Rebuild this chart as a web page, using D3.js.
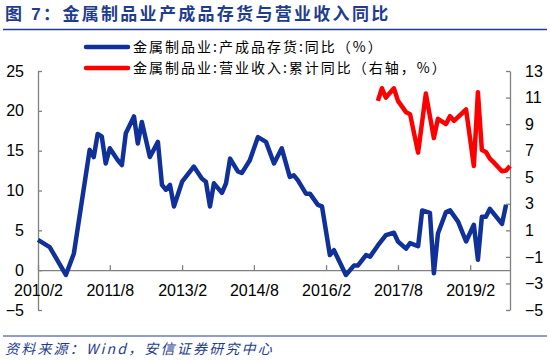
<!DOCTYPE html>
<html>
  <head>
    <meta charset="utf-8">
    <title>金属制品业产成品存货与营业收入同比</title>
    <style>
    body {
        margin: 0px;
        overflow: hidden;
        background: white;
    }

    .tick text {
        font-family: "Liberation Sans", Arial, sans-serif;
        font-size: 16px;
        fill: black;
    }

    .tick line, .domain {
        stroke: #808080;
        stroke-width: 1.3;
    }

    .title {
        font-family: "Liberation Sans", "Noto Sans CJK SC", sans-serif;
        font-size: 17px;
        font-weight: bold;
        fill: #1f3c8f;
        letter-spacing: 2.3px;
    }

    .legend-text {
        font-family: "Noto Sans CJK SC", sans-serif;
        font-size: 14px;
        fill: black;
        letter-spacing: 2px;
    }

    .source {
        font-family: "Noto Sans CJK SC", sans-serif;
        font-size: 14px;
        font-style: italic;
        fill: #1f3c8f;
        letter-spacing: 2.2px;
    }
    </style>
    <script src="https://d3js.org/d3.v7.min.js"></script>
  </head>
  <body>

    <svg width="550" height="360"></svg>

    <script>
        // 产成品存货 同比 (left axis)
        const invDates = ['2010/2','2010/5','2010/9','2010/11','2011/3','2011/4','2011/5','2011/6','2011/7','2011/8',
            '2011/10','2011/11','2011/12','2012/2','2012/3','2012/4','2012/6','2012/8','2012/9','2012/10',
            '2012/11','2012/12','2013/2','2013/5','2013/7','2013/8','2013/9','2013/10','2013/12','2014/1',
            '2014/2','2014/4','2014/5','2014/6','2014/7','2014/9','2014/11','2015/1','2015/3','2015/5',
            '2015/6','2015/7','2015/9','2015/10','2015/12','2016/1','2016/3','2016/4','2016/7','2016/9',
            '2016/10','2016/12','2017/1','2017/3','2017/5','2017/7','2017/8','2017/10','2017/11','2018/1',
            '2018/2','2018/4','2018/5','2018/6','2018/8','2018/9','2018/11','2019/1','2019/3','2019/4',
            '2019/5','2019/6','2019/7','2019/10','2019/11'];
        const invValues = [3.8, 2.9, -0.6, 2.1, 15.1, 14.2, 17.1, 16.8, 13.4, 15.3,
            13.8, 13.2, 17.2, 19.3, 15.9, 18.6, 14.2, 16.1, 10.7, 10.1,
            10.7, 8.0, 11.1, 13.0, 11.5, 11.1, 8.0, 10.9, 9.7, 10.9,
            14.0, 12.4, 12.2, 13.0, 13.8, 16.7, 16.1, 13.4, 15.3, 11.7,
            11.9, 11.3, 9.6, 9.6, 8.2, 8.0, 1.9, 2.5, -0.6, 0.6,
            0.6, 1.9, 1.7, 3.1, 4.4, 4.7, 3.6, 2.7, 3.4, 3.0,
            7.5, 7.2, -0.4, 4.6, 7.3, 7.5, 6.1, 3.6, 5.7, 1.3,
            6.7, 6.7, 7.7, 5.8, 8.2];

        // 营业收入 累计同比 (right axis)
        const revDates = ['2017/3','2017/4','2017/5','2017/7','2017/8','2017/10','2017/11','2018/1','2018/3','2018/5',
            '2018/6','2018/8','2018/9','2018/10','2019/1','2019/3','2019/4','2019/5','2019/6','2019/7',
            '2019/8','2019/10','2019/11','2019/12'];
        const revValues = [10.75, 11.7, 11.0, 11.7, 10.75, 9.9, 9.75, 6.85, 11.3, 7.95,
            9.4, 9.0, 9.6, 9.25, 10.1, 5.85, 11.4, 7.05, 6.9, 6.4,
            6.1, 5.45, 5.5, 5.85];

        const xTickLabels = ['2010/2', '2011/8', '2013/2', '2014/8', '2016/2', '2017/8', '2019/2'];
        const leftTicks = [-5, 0, 5, 10, 15, 20, 25];
        const rightTicks = [-5, -3, -1, 1, 3, 5, 7, 9, 11, 13];

        const seriesNames = ['金属制品业:产成品存货:同比（%）', '金属制品业:营业收入:累计同比（右轴，%）'];
        const seriesColors = ['#10309a', '#ff0000'];

        const svg = d3.select('svg');
        const width = +svg.attr('width');
        const height = +svg.attr('height');

        const parse = d3.timeParse('%Y/%m');
        const inv = invDates.map((d, i) => ({ date: parse(d), value: invValues[i] }));
        const rev = revDates.map((d, i) => ({ date: parse(d), value: revValues[i] }));

        const plot = { left: 38, right: 510, top: 71, bottom: 310 };

        const xScale = d3.scaleTime()
            .domain([parse('2010/2'), parse('2019/12')])
            .range([plot.left, plot.right]);

        const yLeft = d3.scaleLinear()
            .domain([-5, 25])
            .range([plot.bottom, plot.top]);

        const yRight = d3.scaleLinear()
            .domain([-5, 13])
            .range([plot.bottom, plot.top]);

        // title
        svg.append('text')
            .attr('class', 'title')
            .attr('x', 5)
            .attr('y', 20)
            .text('图 7：金属制品业产成品存货与营业收入同比');

        svg.append('line')
            .attr('x1', 3).attr('x2', 547)
            .attr('y1', 29.5).attr('y2', 29.5)
            .attr('stroke', '#1f3c8f')
            .attr('stroke-width', 1.5);

        // axes
        const leftAxisG = svg.append('g')
            .attr('transform', `translate(${plot.left},0)`)
            .call(d3.axisLeft(yLeft)
                .tickValues(leftTicks)
                .tickSize(-4)
                .tickSizeOuter(0)
                .tickPadding(14));

        const rightAxisG = svg.append('g')
            .attr('transform', `translate(${plot.right},0)`)
            .call(d3.axisRight(yRight)
                .tickValues(rightTicks)
                .tickSize(-4)
                .tickSizeOuter(0)
                .tickPadding(15));

        const xAxisG = svg.append('g')
            .attr('transform', `translate(0,${yLeft(0)})`)
            .call(d3.axisBottom(xScale)
                .tickValues(xTickLabels.map(parse))
                .tickFormat((d, i) => xTickLabels[i])
                .tickSize(-5)
                .tickSizeOuter(0)
                .tickPadding(14));

        // lines
        const lineLeft = d3.line()
            .x(d => xScale(d.date))
            .y(d => yLeft(d.value));

        const lineRight = d3.line()
            .x(d => xScale(d.date))
            .y(d => yRight(d.value));

        svg.append('path')
            .datum(inv)
            .attr('d', lineLeft)
            .attr('fill', 'none')
            .attr('stroke', seriesColors[0])
            .attr('stroke-width', 4.5)
            .attr('stroke-linejoin', 'round');

        svg.append('path')
            .datum(rev)
            .attr('d', lineRight)
            .attr('fill', 'none')
            .attr('stroke', seriesColors[1])
            .attr('stroke-width', 4.5)
            .attr('stroke-linejoin', 'round');

        // legend
        const legend = svg.append('g');
        const legendRows = seriesNames.map((name, i) => ({ name, color: seriesColors[i], y: 47 + 21 * i }));

        legend.selectAll('line').data(legendRows)
            .enter().append('line')
            .attr('x1', 86).attr('x2', 128)
            .attr('y1', d => d.y).attr('y2', d => d.y)
            .attr('stroke', d => d.color)
            .attr('stroke-width', 4.5)
            .attr('stroke-linecap', 'round');

        legend.selectAll('text').data(legendRows)
            .enter().append('text')
            .attr('class', 'legend-text')
            .attr('x', 133)
            .attr('y', d => d.y + 5)
            .text(d => d.name);

        // footer
        svg.append('line')
            .attr('x1', 3).attr('x2', 547)
            .attr('y1', 336).attr('y2', 336)
            .attr('stroke', '#1f3c8f')
            .attr('stroke-width', 1);

        svg.append('text')
            .attr('class', 'source')
            .attr('x', 5)
            .attr('y', 354)
            .text('资料来源：Wind，安信证券研究中心');
    </script>
  </body>
</html>
